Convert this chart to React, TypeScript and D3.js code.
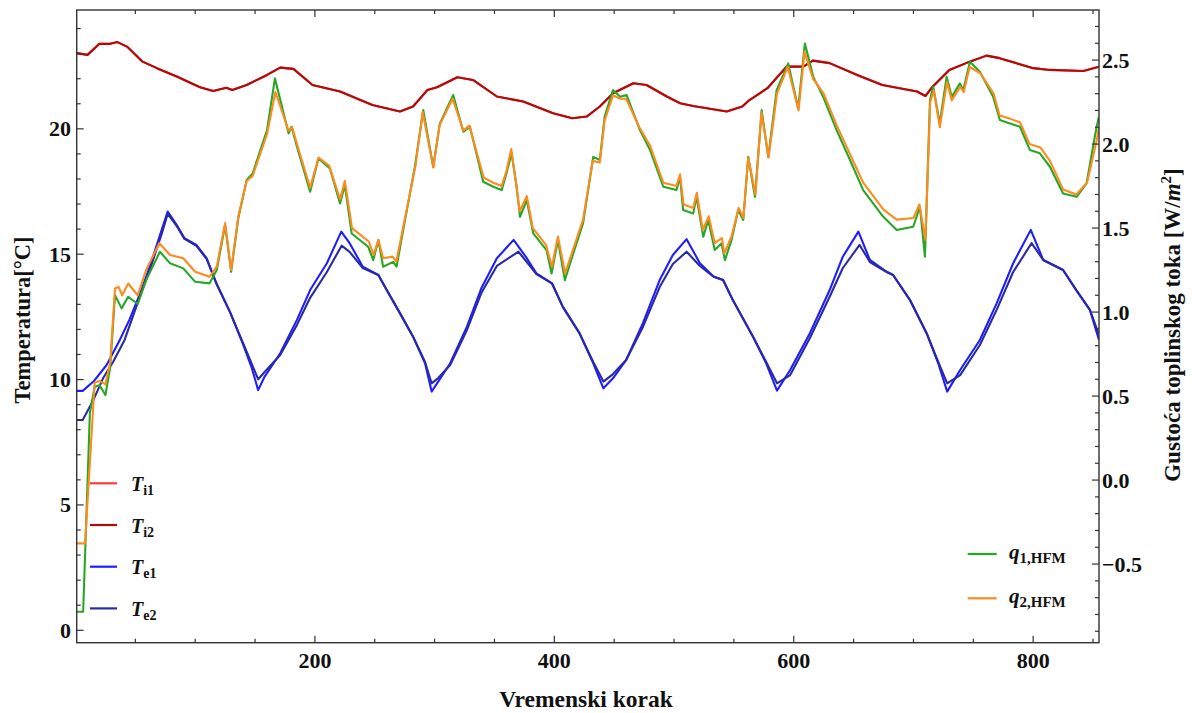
import React from "react";
import * as d3 from "d3";

// ---------- data ----------
const xDomain: [number, number] = [1, 855];
const xMajorTicks = [200, 400, 600, 800];
const leftMajorTicks = [0, 5, 10, 15, 20];
const rightMajorTicks = [-0.5, 0, 0.5, 1, 1.5, 2, 2.5];

// interior temperatures [step, °C]
const ti2Points: [number, number][] = [
  [1, 23.02], [10, 22.95], [20, 23.39], [29, 23.39], [35, 23.46], [43, 23.28], [56, 22.68], [68, 22.42],
  [85, 22.08], [104, 21.66], [115, 21.51], [126, 21.64], [131, 21.55], [143, 21.75], [160, 22.15],
  [171, 22.44], [182, 22.39], [198, 21.75], [221, 21.49], [248, 20.95], [271, 20.69], [282, 20.89],
  [294, 21.55], [302, 21.66], [319, 22.06], [332, 21.95], [352, 21.29], [374, 21.09], [399, 20.62],
  [415, 20.42], [427, 20.49], [438, 20.89], [449, 21.42], [466, 21.82], [477, 21.75], [494, 21.29],
  [505, 21.02], [516, 20.91], [544, 20.69], [557, 20.89], [563, 21.15], [578, 21.62], [594, 22.48],
  [608, 22.48], [616, 22.72], [630, 22.62], [653, 22.15], [674, 21.75], [703, 21.49], [710, 21.31],
  [716, 21.68], [730, 22.35], [747, 22.68], [761, 22.92], [772, 22.82], [800, 22.42], [814, 22.35],
  [842, 22.31], [855, 22.48],
];
const ti1Points: [number, number][] = [
  [1, 23.02], [10, 22.95], [20, 23.39], [29, 23.39], [35, 23.46], [43, 23.28], [56, 22.68], [68, 22.42],
  [85, 22.08], [104, 21.66], [115, 21.51], [126, 21.64], [131, 21.55], [143, 21.75], [160, 22.15],
  [171, 22.44], [182, 22.39], [198, 21.75], [221, 21.49], [248, 20.95], [271, 20.69], [282, 20.89],
  [294, 21.55], [302, 21.66], [319, 22.06], [332, 21.95], [352, 21.29], [374, 21.09], [399, 20.62],
  [415, 20.42], [427, 20.49], [438, 20.89], [449, 21.42], [466, 21.82], [477, 21.75], [494, 21.29],
  [505, 21.02], [516, 20.91], [544, 20.69], [557, 20.89], [563, 21.15], [578, 21.62], [594, 22.48],
  [608, 22.48], [616, 22.72], [630, 22.62], [653, 22.15], [674, 21.75], [703, 21.49], [710, 21.31],
  [716, 21.68], [730, 22.35], [747, 22.68], [761, 22.92], [772, 22.82], [800, 22.42], [814, 22.35],
  [842, 22.31], [855, 22.48],
];

// exterior temperatures [step, °C]
const te1Points: [number, number][] = [
  [1, 9.55], [6, 9.55], [15, 9.92], [26, 10.58], [37, 11.58], [45, 12.38], [54, 13.44], [62, 14.5],
  [72, 15.97], [77, 16.7], [84.5, 16.17], [91, 15.64], [101, 15.37], [109.5, 14.84], [118, 13.8],
  [129, 12.7], [140, 11.4], [147, 10.5], [152.6, 9.58], [158, 10.12], [171, 11.05], [185, 12.38],
  [196, 13.57], [210, 14.64], [222, 15.9], [229, 15.44], [240, 14.5], [253, 14.17], [260, 13.57],
  [271, 12.65], [282, 11.71], [292, 10.65], [297.5, 9.52], [303, 9.92], [313, 10.65], [327, 12.11],
  [339, 13.64], [352, 14.84], [366, 15.57], [377, 14.84], [385, 14.24], [398, 13.84], [407, 12.91],
  [421, 11.85], [432.5, 10.65], [441, 9.65], [449, 10.05], [460, 10.78], [474, 12.25], [488, 13.97],
  [499, 14.97], [510.5, 15.6], [521.6, 14.64], [533, 14.11], [541, 13.97], [549, 13.18], [566, 11.71],
  [577, 10.65], [586, 9.56], [597, 10.38], [613.5, 11.85], [630, 13.57], [641, 14.9], [654, 15.9],
  [663.6, 14.77], [677.6, 14.3], [683, 14.17], [697, 13.18], [711, 11.85], [720.7, 10.65],
  [728.2, 9.52], [739, 10.38], [755.5, 11.58], [769.5, 13.04], [783.3, 14.64], [798, 15.97],
  [808.4, 14.77], [825, 14.37], [836, 13.57], [847.4, 12.78], [855, 11.58],
];
const te2Points: [number, number][] = [
  [1, 8.39], [6, 8.39], [15, 9.19], [23, 10.05], [31.5, 10.71], [41, 11.58], [54, 13.34], [62, 14.37],
  [72, 15.81], [77, 16.61], [84.5, 16.13], [91, 15.61], [101, 15.33], [109.5, 14.81], [118, 13.8],
  [129, 12.7], [140, 11.45], [147, 10.65], [152.6, 10.01], [158, 10.3], [171, 10.98], [185, 12.18],
  [196, 13.26], [210, 14.29], [222.3, 15.34], [229, 15.09], [240, 14.45], [253, 14.17], [260, 13.57],
  [271, 12.65], [282, 11.71], [292, 10.7], [297.5, 9.85], [303, 10.06], [313, 10.58], [327, 11.98],
  [339, 13.45], [352, 14.53], [370, 15.1], [377, 14.69], [385, 14.21], [398, 13.84], [407, 12.91],
  [421, 11.85], [432.5, 10.7], [441, 9.92], [449, 10.22], [460, 10.78], [474, 12.1], [488, 13.69],
  [499, 14.61], [510.5, 15.1], [521.6, 14.53], [533, 14.1], [541, 13.97], [549, 13.18], [566, 11.71],
  [577, 10.7], [586, 9.85], [597, 10.18], [613.5, 11.66], [630, 13.3], [641, 14.45], [655, 15.37],
  [663.6, 14.69], [677.6, 14.29], [683, 14.17], [697, 13.18], [711, 11.85], [720.7, 10.7],
  [728.2, 9.85], [739, 10.18], [755.5, 11.38], [769.5, 12.78], [783.3, 14.29], [798.7, 15.44],
  [808.4, 14.77], [825, 14.37], [836, 13.57], [847.4, 12.78], [855, 11.78],
];

// heat flux density [step, W/m²]
const q1Points: [number, number][] = [
  [1, -0.784], [6.4, -0.784], [12, 0.399], [16, 0.555], [20, 0.565], [25, 0.506], [29, 0.673],
  [33, 1.101], [38.5, 1.022], [44, 1.091], [52, 1.048], [59, 1.19], [70.5, 1.359], [79, 1.29],
  [90, 1.26], [100, 1.18], [112, 1.171], [118, 1.25], [125, 1.518], [130, 1.24], [136, 1.558],
  [143, 1.786], [148, 1.825], [160, 2.083], [166.6, 2.391], [178, 2.064], [180.5, 2.103],
  [185, 1.984], [196, 1.716], [203, 1.915], [212.5, 1.855], [221, 1.647], [225, 1.756],
  [230.7, 1.468], [244.5, 1.389], [248.7, 1.309], [253, 1.428], [257, 1.27], [265.4, 1.299],
  [268.2, 1.27], [275, 1.537], [283.5, 1.865], [290.5, 2.202], [298.8, 1.865], [304.4, 2.123],
  [315.5, 2.292], [324, 2.073], [329.5, 2.103], [340.6, 1.776], [349, 1.746], [356, 1.726],
  [360, 1.825], [364.3, 1.945], [368.5, 1.746], [371.3, 1.567], [377, 1.667], [382.4, 1.468],
  [393.5, 1.369], [397.7, 1.23], [403, 1.428], [408.8, 1.19], [415.8, 1.349], [424, 1.528],
  [432.5, 1.924], [438, 1.905], [442, 2.162], [449, 2.321], [455, 2.281], [460.4, 2.292],
  [471.5, 2.083], [480, 1.964], [491, 1.746], [502, 1.726], [505, 1.805], [507.6, 1.607],
  [516, 1.587], [518.8, 1.686], [524.4, 1.448], [528.6, 1.548], [534, 1.369], [539.7, 1.409],
  [542.5, 1.309], [548, 1.428], [553.6, 1.607], [557.8, 1.548], [562, 1.924], [567.6, 1.686],
  [573.2, 2.202], [578.7, 1.924], [585.7, 2.321], [595.4, 2.48], [603.7, 2.212], [609.3, 2.599],
  [616.3, 2.4], [624.6, 2.281], [635.8, 2.083], [647, 1.905], [658, 1.726], [674.8, 1.567],
  [686, 1.488], [699.8, 1.508], [705.4, 1.627], [709.6, 1.329], [713.8, 2.262], [716.5, 2.341],
  [722, 2.123], [727.7, 2.4], [732, 2.281], [738.8, 2.361], [741.6, 2.321], [747.2, 2.49],
  [755.5, 2.43], [766.6, 2.281], [772.2, 2.143], [780.6, 2.123], [789, 2.103], [797.3, 1.964],
  [805.6, 1.945], [814, 1.865], [825, 1.706], [836.3, 1.686], [844.6, 1.766], [853, 2.103],
  [855, 2.162],
];
const q2Points: [number, number][] = [
  [1, -0.377], [8, -0.377], [16, 0.58], [20, 0.59], [25, 0.57], [29, 0.7], [33, 1.14], [36, 1.15],
  [39, 1.1], [44, 1.17], [52, 1.1], [59, 1.25], [70, 1.41], [79, 1.34], [90, 1.32], [100, 1.24],
  [112, 1.21], [118, 1.27], [125, 1.53], [130, 1.25], [136, 1.57], [143, 1.78], [148, 1.81],
  [160, 2.06], [167, 2.31], [178, 2.08], [181, 2.1], [185, 2.0], [196, 1.74], [203, 1.92],
  [212, 1.87], [221, 1.67], [225, 1.78], [231, 1.5], [245, 1.42], [249, 1.34], [253, 1.43],
  [257, 1.32], [265, 1.33], [268, 1.3], [275, 1.55], [284, 1.87], [290, 2.19], [299, 1.86],
  [304, 2.11], [315, 2.27], [324, 2.08], [329, 2.11], [341, 1.8], [349, 1.77], [356, 1.75],
  [360, 1.84], [364, 1.97], [368, 1.77], [371, 1.6], [377, 1.69], [382, 1.5], [393, 1.4],
  [398, 1.27], [403, 1.45], [409, 1.23], [416, 1.38], [424, 1.55], [432, 1.9], [438, 1.89],
  [442, 2.14], [449, 2.29], [455, 2.27], [460, 2.27], [471, 2.1], [480, 1.99], [491, 1.77],
  [502, 1.75], [505, 1.82], [508, 1.64], [516, 1.62], [519, 1.71], [524, 1.49], [529, 1.57],
  [534, 1.41], [540, 1.44], [542, 1.35], [548, 1.45], [554, 1.62], [558, 1.56], [562, 1.92],
  [568, 1.7], [573, 2.19], [579, 1.92], [586, 2.3], [595, 2.46], [604, 2.2], [609, 2.55],
  [616, 2.39], [625, 2.3], [636, 2.11], [647, 1.94], [658, 1.77], [675, 1.61], [686, 1.55],
  [700, 1.56], [705, 1.64], [710, 1.43], [714, 2.25], [717, 2.32], [722, 2.1], [728, 2.37],
  [732, 2.26], [739, 2.34], [742, 2.31], [747, 2.46], [756, 2.42], [767, 2.3], [772, 2.17],
  [781, 2.15], [789, 2.13], [797, 2.0], [806, 1.98], [814, 1.9], [825, 1.73], [836, 1.7],
  [845, 1.77], [853, 2.02], [855, 2.1],
];

// ---------- styling ----------
const COLORS = {
  ti1: "#ff3a3a",
  ti2: "#b30a0a",
  te1: "#1e1eff",
  te2: "#2a2aa8",
  q1: "#26a826",
  q2: "#ff8a1e",
};
const FONT = "'Liberation Serif', 'Times New Roman', Times, serif";

export default function App() {
  const W = 1192;
  const H = 713;
  const left = 76.7;
  const right = 1099;
  const top = 10;
  const bottom = 642.7;

  const x = d3.scaleLinear().domain(xDomain).range([left, right]);
  const yL = d3.scaleLinear().domain([-0.495, 24.74]).range([bottom, top]);
  const yR = d3.scaleLinear().domain([-0.968, 2.798]).range([bottom, top]);

  const lineL = d3
    .line<[number, number]>()
    .x((d) => x(d[0]))
    .y((d) => yL(d[1]));
  const lineR = d3
    .line<[number, number]>()
    .x((d) => x(d[0]))
    .y((d) => yR(d[1]));

  const xMinor = d3.range(50, 856, 50).filter((v) => !xMajorTicks.includes(v));
  const leftMinor = d3.range(0, 25, 1).filter((v) => !leftMajorTicks.includes(v));
  const rightMinor = d3
    .range(-9, 28, 1)
    .map((v) => v / 10)
    .filter((v) => !rightMajorTicks.some((m) => Math.abs(m - v) < 1e-6));

  const tickColor = "#333";
  const majorLen = 7;
  const minorLen = 4;

  const fmtRight = (v: number) => (v < 0 ? "\u2212" + Math.abs(v).toFixed(1) : v.toFixed(1));

  const leftLegend = [
    { key: "ti1", sub: "i1", color: COLORS.ti1 },
    { key: "ti2", sub: "i2", color: COLORS.ti2 },
    { key: "te1", sub: "e1", color: COLORS.te1 },
    { key: "te2", sub: "e2", color: COLORS.te2 },
  ];
  const rightLegend = [
    { key: "q1", sub: "1,HFM", color: COLORS.q1 },
    { key: "q2", sub: "2,HFM", color: COLORS.q2 },
  ];

  return (
    <svg
      width={W}
      height={H}
      style={{ position: "absolute", left: 0, top: 0, background: "#fff" }}
      fontFamily={FONT}
    >
      <defs>
        <clipPath id="plotClip">
          <rect x={left} y={top} width={right - left} height={bottom - top} />
        </clipPath>
      </defs>
      <rect x={0} y={0} width={W} height={H} fill="#fff" />

      {/* data lines */}
      <g clipPath="url(#plotClip)" fill="none" strokeWidth={2.1} strokeLinejoin="round">
        <path d={lineL(ti1Points) || ""} stroke={COLORS.ti1} />
        <path d={lineL(ti2Points) || ""} stroke={COLORS.ti2} />
        <path d={lineL(te1Points) || ""} stroke={COLORS.te1} />
        <path d={lineL(te2Points) || ""} stroke={COLORS.te2} />
        <path d={lineR(q1Points) || ""} stroke={COLORS.q1} />
        <path d={lineR(q2Points) || ""} stroke={COLORS.q2} />
      </g>

      {/* frame */}
      <rect
        x={left}
        y={top}
        width={right - left}
        height={bottom - top}
        fill="none"
        stroke={tickColor}
        strokeWidth={1.4}
      />

      {/* ticks */}
      <g stroke={tickColor} strokeWidth={1.2}>
        {xMajorTicks.map((v) => (
          <g key={"xm" + v}>
            <line x1={x(v)} x2={x(v)} y1={bottom} y2={bottom - majorLen} />
            <line x1={x(v)} x2={x(v)} y1={top} y2={top + majorLen} />
          </g>
        ))}
        {xMinor.map((v) => (
          <g key={"xn" + v}>
            <line x1={x(v)} x2={x(v)} y1={bottom} y2={bottom - minorLen} />
            <line x1={x(v)} x2={x(v)} y1={top} y2={top + minorLen} />
          </g>
        ))}
        {leftMajorTicks.map((v) => (
          <line key={"lm" + v} x1={left} x2={left + majorLen} y1={yL(v)} y2={yL(v)} />
        ))}
        {leftMinor.map((v) => (
          <line key={"ln" + v} x1={left} x2={left + minorLen} y1={yL(v)} y2={yL(v)} />
        ))}
        {rightMajorTicks.map((v) => (
          <line key={"rm" + v} x1={right} x2={right - majorLen} y1={yR(v)} y2={yR(v)} />
        ))}
        {rightMinor.map((v) => (
          <line key={"rn" + v} x1={right} x2={right - minorLen} y1={yR(v)} y2={yR(v)} />
        ))}
      </g>

      {/* tick labels */}
      <g fontSize={22} fontWeight="bold" fill="#111">
        {xMajorTicks.map((v) => (
          <text key={"xl" + v} x={x(v)} y={668} textAnchor="middle">
            {v}
          </text>
        ))}
        {leftMajorTicks.map((v) => (
          <text key={"ll" + v} x={71} y={yL(v) + 7.5} textAnchor="end">
            {v}
          </text>
        ))}
        {rightMajorTicks.map((v) => (
          <text key={"rl" + v} x={1102} y={yR(v) + 7.5} textAnchor="start">
            {fmtRight(v)}
          </text>
        ))}
      </g>

      {/* axis titles */}
      <g fontWeight="bold" fill="#111">
        <text x={586} y={707} textAnchor="middle" fontSize={23.5}>
          Vremenski korak
        </text>
        <text transform={`translate(30,320) rotate(-90)`} textAnchor="middle" fontSize={22.5}>
          Temperatura[°C]
        </text>
        <text transform={`translate(1180,325) rotate(-90)`} textAnchor="middle" fontSize={23}>
          Gustoća toplinskog toka [W/
          <tspan fontStyle="italic">m</tspan>
          <tspan fontSize={15} dy={-9}>
            2
          </tspan>
          <tspan dy={9}>]</tspan>
        </text>
      </g>

      {/* left legend */}
      <g>
        {leftLegend.map((d, i) => {
          const ly = 483.3 + i * 41.7;
          return (
            <g key={d.key}>
              <line x1={90} x2={117} y1={ly} y2={ly} stroke={d.color} strokeWidth={2.2} />
              <text x={131} y={ly + 7.5} fontWeight="bold" fill="#111">
                <tspan fontStyle="italic" fontSize={20}>
                  T
                </tspan>
                <tspan fontSize={14} dy={4}>
                  {d.sub}
                </tspan>
              </text>
            </g>
          );
        })}
      </g>

      {/* right legend */}
      <g>
        {rightLegend.map((d, i) => {
          const ly = 554 + i * 44.3;
          return (
            <g key={d.key}>
              <line x1={967.7} x2={996.7} y1={ly} y2={ly} stroke={d.color} strokeWidth={2.2} />
              <text x={1009} y={ly + 5} fontWeight="bold" fill="#111">
                <tspan fontStyle="italic" fontSize={21}>
                  q
                </tspan>
                <tspan fontSize={15} dy={4}>
                  {d.sub}
                </tspan>
              </text>
            </g>
          );
        })}
      </g>
    </svg>
  );
}
